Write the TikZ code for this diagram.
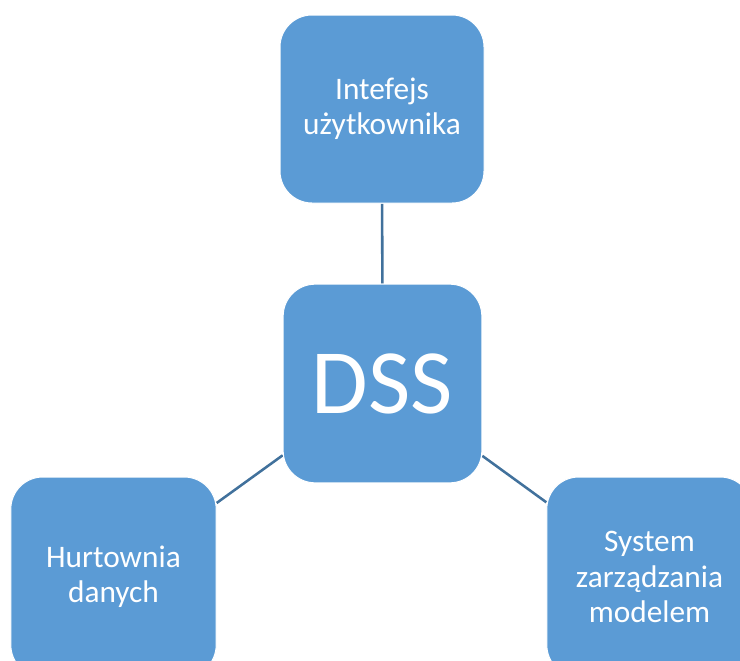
\documentclass[tikz,border=0pt]{standalone}
\usepackage{fontspec}
\setmainfont{Carlito}
\usetikzlibrary{backgrounds}
\definecolor{boxfill}{HTML}{5B9BD5}
\definecolor{linkcol}{HTML}{41719C}
\begin{document}
\begin{tikzpicture}[x=0.75pt,y=-0.75pt,
  block/.style={rectangle, rounded corners=24pt, fill=boxfill, draw=white,
    line width=0.75pt, text=white, inner sep=0pt, align=center,
    font=\fontsize{23.5}{26.5}\selectfont},
  link/.style={draw=linkcol, line width=1.9pt}]
\useasboundingbox (0,0) rectangle (740,661);
\node[block, minimum width=153pt, minimum height=141pt] (ui) at (382,109) {Intefejs\\użytkownika};
\node[block, minimum width=149pt, minimum height=149pt,
  font=\fontsize{69}{76}\selectfont] (dss) at (382.5,383.5) {DSS};
\node[block, minimum width=154pt, minimum height=150pt] (hurt) at (113.5,577) {Hurtownia\\danych};
\node[block, minimum width=154pt, minimum height=150pt] (sys) at (649.5,577) {System\\zarządzania\\modelem};
\begin{scope}[on background layer]
  \draw[link] (ui) -- (dss);
  \draw[link] (dss) -- (hurt);
  \draw[link] (dss) -- (sys);
\end{scope}
\end{tikzpicture}
\end{document}
